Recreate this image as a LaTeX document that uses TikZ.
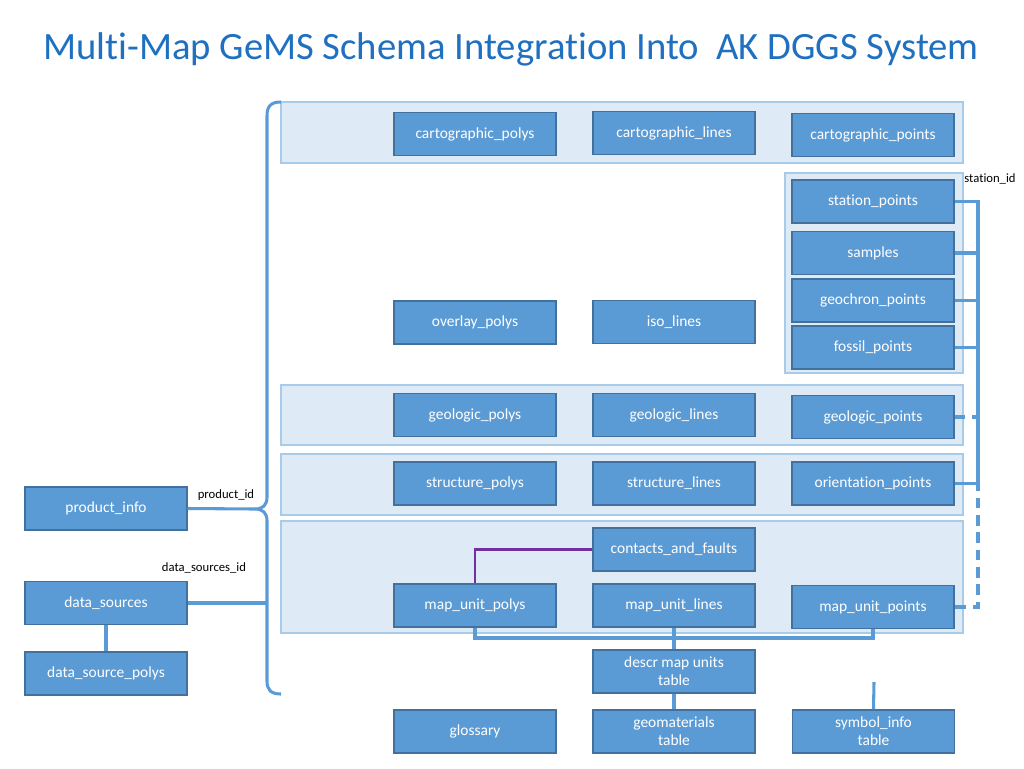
\documentclass[tikz,border=0pt]{standalone}
\usepackage{fontspec}
\setmainfont[Ligatures={NoCommon}]{Carlito}
\definecolor{boxfill}{HTML}{5B9BD5}
\definecolor{boxdraw}{HTML}{41719C}
\definecolor{panelfill}{HTML}{DEEBF7}
\definecolor{paneldraw}{HTML}{A9CBEA}
\definecolor{titlecol}{HTML}{1F70C1}
\definecolor{linkcol}{HTML}{5B9BD5}
\definecolor{purplelink}{HTML}{7030A0}
\begin{document}
\begin{tikzpicture}[x=0.75pt,y=-0.75pt,
  box/.style={draw=boxdraw, fill=boxfill, line width=0.9pt, minimum width=121.5pt, minimum height=32.25pt, inner sep=1pt, text=white, font=\fontsize{11.6}{13.5}\selectfont, align=center},
  panel/.style={draw=paneldraw, fill=panelfill, line width=1.1pt},
  link/.style={draw=linkcol, line width=2.3pt},
  purplink/.style={draw=purplelink, line width=2pt},
  lbl/.style={font=\fontsize{9.5}{11}\selectfont, inner sep=0pt, text=black}]
\useasboundingbox (0,0) rectangle (1024,768);

% title
\node[font=\fontsize{29}{32}\selectfont, text=titlecol, inner sep=0pt] (title) at (511,49) {Multi-Map GeMS Schema Integration Into\ \ AK DGGS System};

% panels
\draw[panel] (281,102) rectangle (963,163);
\draw[panel] (785,173) rectangle (963,373);
\draw[panel] (281,385) rectangle (963,445);
\draw[panel] (281,454) rectangle (963,515);
\draw[panel] (281,521) rectangle (963,633);

% helper coordinates
\coordinate (busx) at (978,0);
\coordinate (busb) at (0,638);
\coordinate (symtop) at (874,682);
\coordinate (brtip) at (255,509);
\coordinate (brline) at (267,0);

% boxes
\node[box] (cpolys) at (475,134) {cartographic\_polys};
\node[box] (clines) at (674,133) {cartographic\_lines};
\node[box] (cpoints) at (873,135) {cartographic\_points};

\node[box] (station) at (873,201.5) {station\_points};
\node[box] (samples) at (873,253) {samples};
\node[box] (geochron) at (873,300.5) {geochron\_points};
\node[box] (fossil) at (873,347.5) {fossil\_points};

\node[box] (overlay) at (475,322.5) {overlay\_polys};
\node[box] (iso) at (674,322) {iso\_lines};

\node[box] (gpolys) at (475,415) {geologic\_polys};
\node[box] (glines) at (674,415) {geologic\_lines};
\node[box] (gpoints) at (873,417) {geologic\_points};

\node[box] (spolys) at (475,483.5) {structure\_polys};
\node[box] (slines) at (674,483.5) {structure\_lines};
\node[box] (opoints) at (873,483.5) {orientation\_points};

\node[box] (contacts) at (674,549.5) {contacts\_and\_faults};
\node[box] (mupolys) at (475,605.5) {map\_unit\_polys};
\node[box] (mulines) at (674,605.5) {map\_unit\_lines};
\node[box] (mupoints) at (873,607) {map\_unit\_points};

\node[box] (descr) at (674,671.5) {descr map units\\table};
\node[box] (glossary) at (475,731.5) {glossary};
\node[box] (geomat) at (674,731.5) {geomaterials\\table};
\node[box] (symbol) at (873.5,731.5) {symbol\_info\\table};

\node[box] (product) at (106,508.5) {product\_info};
\node[box] (datasrc) at (106,603) {data\_sources};
\node[box] (dspolys) at (106,673.5) {data\_source\_polys};

% labels
\node[lbl] (lstation) at (990,179) {station\_id};
\node[lbl] (lproduct) at (226,495) {product\_id};
\node[lbl] (ldata) at (204,568) {data\_sources\_id};

% station_id connectors
\draw[link, dash pattern=on 8pt off 5pt] (gpoints.east) -- (gpoints.east -| busx) -- (mupoints.east -| busx) -- (mupoints.east);
\draw[link] (station.east) -- (station.east -| busx) -- (opoints.east -| busx) -- (opoints.east);
\draw[link] (samples.east) -- (samples.east -| busx);
\draw[link] (geochron.east) -- (geochron.east -| busx);
\draw[link] (fossil.east) -- (fossil.east -| busx);

% map unit connectors
\draw[purplink] (contacts.west) -| (mupolys.north);
\draw[link] (mupolys.south) -- (mupolys.south |- busb) -- (mupoints.south |- busb) -- (mupoints.south);
\draw[link] (mulines.south) -- (descr.north);
\draw[link] (descr.south) -- (geomat.north);
\draw[link] (symtop) -- (symbol.north);

% left side
\draw[link] (datasrc.south) -- (dspolys.north);
\draw[link] (product.east) -- (brtip);
\draw[link] (datasrc.east) -- (datasrc.east -| brline);
\draw[link] (281,102) .. controls (271,102) and (267,106) .. (267,116) -- (267,497)
  .. controls (267,505) and (263,509) .. (brtip)
  .. controls (263,509) and (267,513) .. (267,521) -- (267,681)
  .. controls (267,690) and (271,694) .. (281,694);
\end{tikzpicture}
\end{document}
